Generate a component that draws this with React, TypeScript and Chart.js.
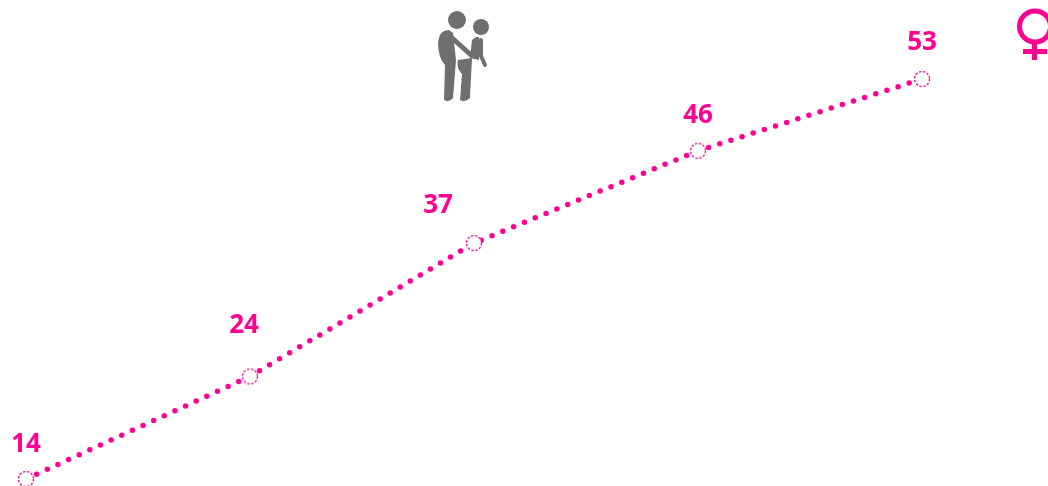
import React, { useEffect, useRef } from "react";
import { Chart, registerables } from "chart.js";

Chart.register(...registerables);

const categories = ["A", "B", "C", "D", "E"];
const values = [14, 24, 37, 46, 53];
const labelOffsetX = [0, 0, -36, 0, 0];
const labelOffsetY = [-34, -51, -38, -35, -36];

const PINK = "#ff0090";
const GREY = "#6f6f6f";

function makeDashedPoint() {
  const c = document.createElement("canvas");
  c.width = 18;
  c.height = 18;
  const g = c.getContext("2d")!;
  g.beginPath();
  g.arc(9, 9, 7.5, 0, Math.PI * 2);
  g.fillStyle = "#ffffff";
  g.fill();
  g.setLineDash([2.4, 1.6]);
  g.lineWidth = 1.3;
  g.strokeStyle = PINK;
  g.stroke();
  return c;
}

const decorations = {
  id: "decorations",
  afterDraw(chart: any) {
    const g = chart.ctx as CanvasRenderingContext2D;
    const pts = chart.getDatasetMeta(0).data;
    g.save();
    g.font = '700 26px "Open Sans", sans-serif';
    g.fillStyle = PINK;
    g.textAlign = "center";
    g.textBaseline = "middle";
    values.forEach((v, i) => {
      g.fillText(String(v), pts[i].x + labelOffsetX[i] - (i === 1 ? 6 : 0), pts[i].y + labelOffsetY[i]);
    });

    // Venus symbol
    g.strokeStyle = PINK;
    g.lineWidth = 5;
    g.lineCap = "butt";
    g.beginPath();
    g.arc(1035, 26.5, 15.5, 0, Math.PI * 2);
    g.stroke();
    g.beginPath();
    g.moveTo(1034.5, 44);
    g.lineTo(1034.5, 60);
    g.moveTo(1023, 51.5);
    g.lineTo(1047, 51.5);
    g.stroke();

    // Couple pictogram
    g.fillStyle = GREY;
    g.strokeStyle = GREY;
    g.lineCap = "round";
    g.lineJoin = "round";
    g.beginPath();
    g.arc(457, 20, 9, 0, Math.PI * 2);
    g.fill();
    g.beginPath();
    g.arc(481, 27, 8, 0, Math.PI * 2);
    g.fill();
    // man torso and left leg
    g.beginPath();
    g.moveTo(439, 38);
    g.quadraticCurveTo(441, 30, 449, 30);
    g.lineTo(453, 33);
    g.lineTo(456, 60);
    g.lineTo(453, 98);
    g.quadraticCurveTo(449, 103, 444, 100);
    g.lineTo(445, 65);
    g.quadraticCurveTo(438, 58, 438, 42);
    g.closePath();
    g.fill();
    // right leg
    g.beginPath();
    g.moveTo(458, 60);
    g.lineTo(472, 58);
    g.lineTo(470, 98);
    g.quadraticCurveTo(465, 103, 460, 100);
    g.lineTo(462, 74);
    g.quadraticCurveTo(456, 68, 458, 60);
    g.closePath();
    g.fill();
    // man arm
    g.lineWidth = 5;
    g.beginPath();
    g.moveTo(451, 37);
    g.lineTo(471, 55);
    g.stroke();
    // woman torso
    g.beginPath();
    g.moveTo(472, 40);
    g.quadraticCurveTo(476, 36, 479, 37);
    g.lineTo(479, 60);
    g.lineTo(470, 58);
    g.closePath();
    g.fill();
    // woman arm
    g.lineWidth = 4;
    g.beginPath();
    g.moveTo(481, 40);
    g.lineTo(481, 56);
    g.lineTo(485, 65);
    g.stroke();
    g.restore();
  },
};

export default function App() {
  const ref = useRef<HTMLCanvasElement>(null);
  useEffect(() => {
    const chart = new Chart(ref.current!, {
      type: "line",
      plugins: [decorations],
      data: {
        labels: categories,
        datasets: [
          {
            data: values,
            borderColor: PINK,
            borderWidth: 5.5,
            borderDash: [0, 11.7],
            borderCapStyle: "round",
            tension: 0,
            clip: false,
            pointStyle: makeDashedPoint() as any,
            pointRadius: 9,
          },
        ],
      },
      options: {
        animation: false,
        responsive: false,
        layout: { autoPadding: false, padding: { left: 26, right: 126, top: 79, bottom: 7 } },
        plugins: { legend: { display: false }, tooltip: { enabled: false } },
        scales: {
          x: { display: false, offset: false },
          y: { display: false, min: 14, max: 53 },
        },
      },
    });
    return () => chart.destroy();
  }, []);
  return (
    <canvas
      ref={ref}
      width={1048}
      height={486}
      style={{ position: "absolute", left: 0, top: 0, filter: "blur(0.5px)" }}
    />
  );
}
